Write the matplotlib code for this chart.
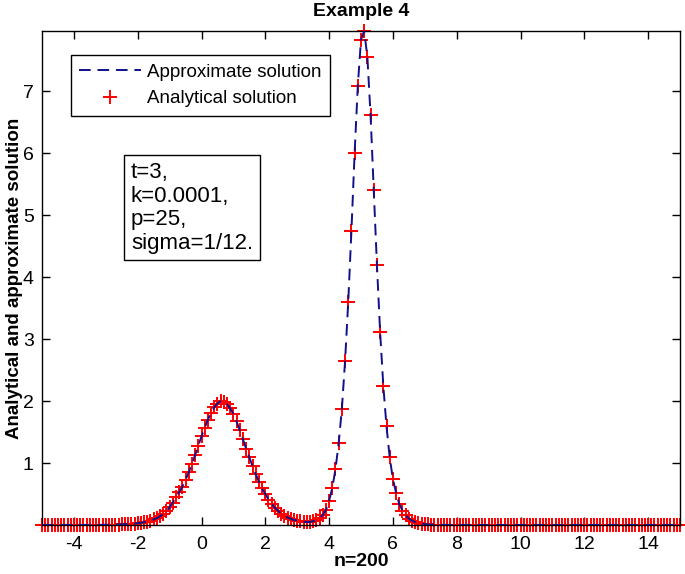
import numpy as np
import matplotlib
matplotlib.use("Agg")
import matplotlib.pyplot as plt

plt.rcParams["font.family"] = ["Liberation Sans", "DejaVu Sans"]
plt.rcParams["axes.unicode_minus"] = False

# grid used by the solver (n=200 intervals on [-5, 15])
x_start, x_end, n = -5.0, 15.0, 200
x = np.linspace(x_start, x_end, n + 1)

# analytical solution, x = -5.0 ... 15.0 step 0.1
analytical = [
    0.0, 0.0, 0.0, 0.0, 0.0, 0.0, 0.0, 0.0, 0.0, 0.0,           # -5.0 .. -4.1
    0.0, 0.0, 0.0, 0.0, 0.0, 0.0, 0.001, 0.002, 0.002, 0.003,   # -4.0 .. -3.1
    0.003, 0.004, 0.005, 0.006, 0.008, 0.010, 0.012, 0.015, 0.019, 0.023,  # -3.0 .. -2.1
    0.029, 0.036, 0.045, 0.055, 0.07, 0.09, 0.11, 0.14, 0.18, 0.22,        # -2.0 .. -1.1
    0.29, 0.36, 0.45, 0.53, 0.62, 0.73, 0.85, 0.98, 1.13, 1.28,            # -1.0 .. -0.1
    1.43, 1.57, 1.70, 1.81, 1.90, 1.96, 2.00, 1.99, 1.95, 1.88,            # 0.0 .. 0.9
    1.79, 1.67, 1.53, 1.38, 1.23, 1.09, 0.95, 0.82, 0.70, 0.59,            # 1.0 .. 1.9
    0.50, 0.41, 0.34, 0.28, 0.23, 0.18, 0.15, 0.12, 0.10, 0.08,            # 2.0 .. 2.9
    0.07, 0.06, 0.05, 0.05, 0.05, 0.06, 0.08, 0.11, 0.16, 0.24,            # 3.0 .. 3.9
    0.39, 0.60, 0.90, 1.32, 1.87, 2.64, 3.60, 4.75, 6.00, 7.09,            # 4.0 .. 4.9
    7.83, 7.97, 7.55, 6.61, 5.41, 4.19, 3.11, 2.24, 1.59, 1.09,            # 5.0 .. 5.9
    0.74, 0.52, 0.34, 0.23, 0.155, 0.104, 0.070, 0.047, 0.032, 0.021,      # 6.0 .. 6.9
    0.014, 0.009, 0.006, 0.004, 0.003, 0.002, 0.001, 0.0, 0.0, 0.0,        # 7.0 .. 7.9
    0.0, 0.0, 0.0, 0.0, 0.0, 0.0, 0.0, 0.0, 0.0, 0.0,           # 8.0 .. 8.9
    0.0, 0.0, 0.0, 0.0, 0.0, 0.0, 0.0, 0.0, 0.0, 0.0,           # 9.0 .. 9.9
    0.0, 0.0, 0.0, 0.0, 0.0, 0.0, 0.0, 0.0, 0.0, 0.0,           # 10.0 .. 10.9
    0.0, 0.0, 0.0, 0.0, 0.0, 0.0, 0.0, 0.0, 0.0, 0.0,           # 11.0 .. 11.9
    0.0, 0.0, 0.0, 0.0, 0.0, 0.0, 0.0, 0.0, 0.0, 0.0,           # 12.0 .. 12.9
    0.0, 0.0, 0.0, 0.0, 0.0, 0.0, 0.0, 0.0, 0.0, 0.0,           # 13.0 .. 13.9
    0.0, 0.0, 0.0, 0.0, 0.0, 0.0, 0.0, 0.0, 0.0, 0.0,           # 14.0 .. 14.9
    0.0,                                                        # 15.0
]
# the dashed approximate curve sits on top of the markers everywhere
approximate = list(analytical)

x_ticks = [-4, -2, 0, 2, 4, 6, 8, 10, 12, 14]
y_ticks = [1, 2, 3, 4, 5, 6, 7]
params_text = "t=3,\nk=0.0001,\np=25,\nsigma=1/12."

W, H = 685, 574
fig = plt.figure(figsize=(W / 100, H / 100), dpi=100)
fig.patch.set_facecolor("white")
ax = fig.add_axes([42 / W, 1 - 525 / H, (680 - 42) / W, (525 - 31) / H])

ax.plot(x, analytical, linestyle="none", marker="+", color="#ff0000",
        markersize=10, markeredgewidth=1.4, label="Analytical solution",
        zorder=2, clip_on=False)
ax.plot(x, approximate, color="#10108a", linewidth=1.4, dashes=(6, 3.5),
        label="Approximate solution", zorder=3)

ax.set_xlim(x_start, x_end)
ax.set_ylim(0, max(analytical))
ax.set_xticks(x_ticks)
ax.set_yticks(y_ticks)
ax.tick_params(direction="in", length=6, width=1, top=True, right=True,
               labelsize=14)
ax.tick_params(axis="x", pad=8)
ax.tick_params(axis="y", pad=6)
for s in ax.spines.values():
    s.set_linewidth(1.0)

ax.set_title("Example 4", fontsize=14, fontweight="bold", pad=11)
ax.set_xlabel("n=200", fontsize=14, fontweight="bold")
ax.xaxis.set_label_coords(0.5, -(562 - 525) / (525 - 31))
ax.xaxis.label.set_va("center")
ax.set_ylabel("Analytical and approximate solution", fontsize=13.5,
              fontweight="bold")
ax.yaxis.set_label_coords(-(42 - 15) / (680 - 42), 0.5)
ax.yaxis.label.set_va("center")

handles, labels = ax.get_legend_handles_labels()
leg = ax.legend(handles[::-1], labels[::-1], loc="upper left",
                bbox_to_anchor=(71 / W, 1 - 55 / H), bbox_transform=fig.transFigure,
                borderaxespad=0, fontsize=13.5, handlelength=3.3, handletextpad=0.3,
                labelspacing=0.5, borderpad=0.45, fancybox=False, framealpha=1)
leg.get_frame().set_edgecolor("black")
leg.get_frame().set_linewidth(1.0)

fig.text(131 / W, 1 - 162 / H, params_text, fontsize=16, va="top", ha="left",
         linespacing=1.16,
         bbox=dict(boxstyle="square,pad=0.3", facecolor="white", edgecolor="black",
                   linewidth=1.0))

fig.savefig("out.png", dpi=100)
